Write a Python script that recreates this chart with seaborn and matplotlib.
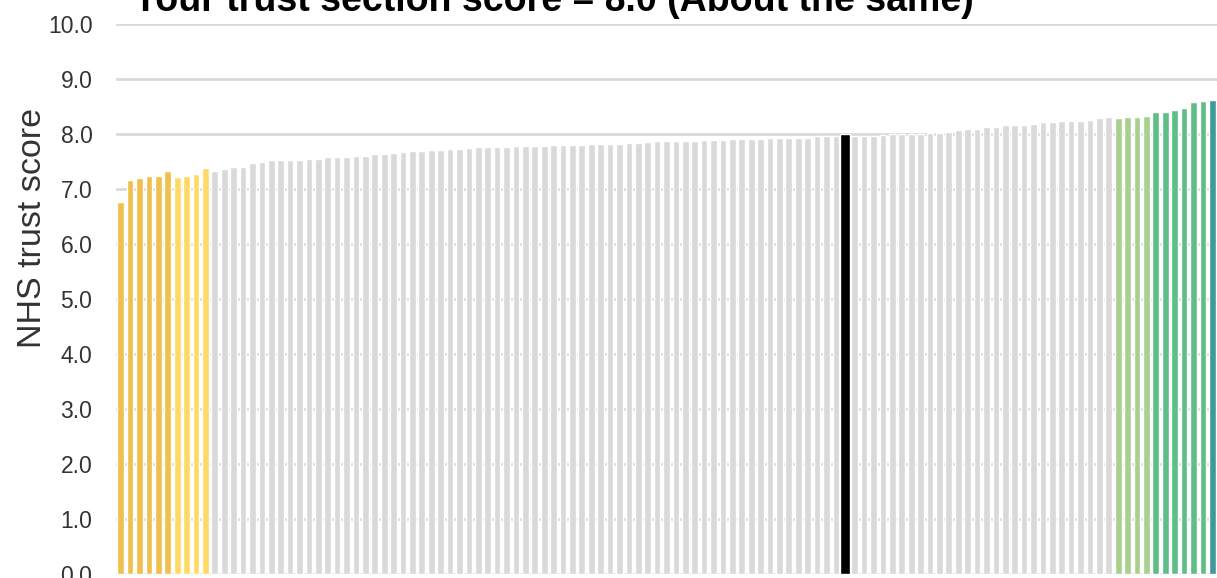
import matplotlib
matplotlib.use('Agg')
import matplotlib.pyplot as plt
import pandas as pd
import seaborn as sns

# Trust scores, sorted low -> high
scores = [6.77, 7.17, 7.21, 7.24, 7.24, 7.33, 7.22, 7.25, 7.28, 7.39,
          7.34, 7.37, 7.41, 7.41, 7.48, 7.50, 7.53, 7.53, 7.53, 7.53,
          7.56, 7.56, 7.58, 7.58, 7.58, 7.61, 7.61, 7.65, 7.65, 7.66,
          7.68, 7.69, 7.70, 7.71, 7.72, 7.73, 7.74, 7.75, 7.76, 7.76,
          7.76, 7.77, 7.78, 7.78, 7.78, 7.79, 7.80, 7.80, 7.81, 7.81,
          7.82, 7.82, 7.82, 7.83, 7.85, 7.85, 7.86, 7.88, 7.88, 7.88,
          7.88, 7.88, 7.89, 7.90, 7.90, 7.91, 7.91, 7.91, 7.92, 7.93,
          7.93, 7.93, 7.94, 7.94, 7.96, 7.96, 7.97, 8.00, 7.97, 7.97,
          7.97, 7.98, 8.01, 8.01, 8.01, 8.01, 8.02, 8.03, 8.05, 8.07,
          8.09, 8.10, 8.13, 8.13, 8.16, 8.16, 8.16, 8.19, 8.22, 8.22,
          8.24, 8.24, 8.24, 8.26, 8.29, 8.31, 8.30, 8.31, 8.32, 8.33,
          8.41, 8.41, 8.44, 8.48, 8.59, 8.61, 8.63]

# Band of each trust (how many bars in each band, left to right)
band_names = ['much worse', 'worse', 'same', 'yours', 'same', 'better', 'much better', 'best']
band_counts = [6, 4, 67, 1, 28, 4, 6, 1]
band_colors = {'much worse': '#F0BF4C', 'worse': '#FFD966', 'same': '#D9D9D9',
               'yours': '#000000', 'better': '#A9D08E', 'much better': '#5FBD86',
               'best': '#3D9A99'}

yticks = [0, 1, 2, 3, 4, 5, 6, 7, 8, 9, 10]
title = 'Your trust section score = 8.0 (About the same)'

bands = []
for name, n in zip(band_names, band_counts):
    bands += [name] * n

df = pd.DataFrame({'trust': [str(i) for i in range(len(scores))],
                   'score': scores, 'band': bands})
order = list(df['trust'])

sns.set_style('white')
plt.rcParams['font.family'] = ['Liberation Sans', 'DejaVu Sans']

fig = plt.figure(figsize=(12.17, 5.78), dpi=100)
ax = fig.add_axes([116 / 1217, (578 - 574.3) / 578, 1 - 116 / 1217, (574.3 - 24.3) / 578])

others = df[df['band'] != 'yours']
mine = df[df['band'] == 'yours']
sns.barplot(data=others, x='trust', y='score', hue='band', palette=band_colors,
            order=order, width=0.71, dodge=False, legend=False, saturation=1,
            ax=ax, zorder=3)
sns.barplot(data=mine, x='trust', y='score', color='black', order=order,
            width=1.05, saturation=1, ax=ax, zorder=3)

ax.set_xlim(-0.5, len(scores) - 0.5)
ax.set_ylim(0, 10)
ax.set_yticks(yticks)
ax.set_yticklabels([f'{t:.1f}' for t in yticks], fontsize=16.5, color='#333333')
ax.set_xticks([])
ax.set_xlabel('')
ax.set_ylabel('NHS trust score', fontsize=24.5, color='#333333')
ax.yaxis.set_label_coords(-0.062, 0.63)
ax.tick_params(axis='y', length=0, pad=17)
ax.grid(axis='y', color='#D9D9D9', linewidth=2, zorder=0)
ax.set_axisbelow(True)
sns.despine(ax=ax, left=True, bottom=True, top=True, right=True)

fig.text(133 / 1217, 1 - 11 / 578, title, fontsize=27, fontweight='bold',
         ha='left', va='baseline', color='black')

fig.savefig('out.png', dpi=100)
